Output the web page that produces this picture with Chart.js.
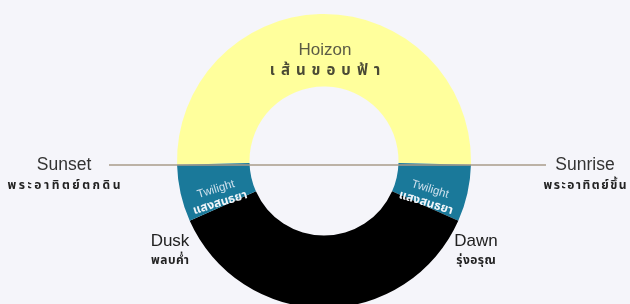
<!DOCTYPE html>
<html>
<head>
<meta charset="utf-8">
<script src="https://cdn.jsdelivr.net/npm/chart.js@4.4.0/dist/chart.umd.min.js"></script>
<style>
html,body{margin:0;padding:0;background:#f5f5fa;overflow:hidden;}
#wrap{position:absolute;left:0;top:0;width:630px;height:310px;}
</style>
</head>
<body>
<div id="wrap"><canvas id="c"></canvas></div>
<script>
// Data (degrees of the day circle)
const categories = ['Hoizon', 'Twilight (dawn)', 'Night', 'Twilight (dusk)'];
const values = [183, 22.5, 132, 22.5];
const colors = ['#ffff9c', '#1a799a', '#000000', '#1a799a'];

// Text labels
const horizonLabel = ['Hoizon', 'เส้นขอบฟ้า'];
const sunsetLabel = ['Sunset', 'พระอาทิตย์ตกดิน'];
const sunriseLabel = ['Sunrise', 'พระอาทิตย์ขึ้น'];
const duskLabel = ['Dusk', 'พลบค่ำ'];
const dawnLabel = ['Dawn', 'รุ่งอรุณ'];
const twilightLabel = ['Twilight', 'แสงสนธยา'];

const LATIN = '"Liberation Sans", Arial, sans-serif';
const THAI = '"Noto Sans Thai", "Noto Sans", Tahoma, sans-serif';

const labelPlugin = {
  id: 'labels',
  afterDatasetsDraw(chart) {
    const ctx = chart.ctx;
    const arc = chart.getDatasetMeta(0).data[0];
    const cx = arc.x, cy = arc.y, R = arc.outerRadius;
    const ly = cy + 4;
    ctx.save();
    // horizon line
    ctx.strokeStyle = '#a89b8a';
    ctx.lineWidth = 1.5;
    ctx.beginPath();
    ctx.moveTo(cx - R - 68, ly);
    ctx.lineTo(cx + R + 75, ly);
    ctx.stroke();

    ctx.textAlign = 'center';
    ctx.textBaseline = 'middle';
    function two(lbl, x, y, f1, f2, c1, c2, gap, sp) {
      ctx.letterSpacing = '0px';
      ctx.fillStyle = c1; ctx.font = f1; ctx.fillText(lbl[0], x, y);
      ctx.letterSpacing = sp + 'px';
      ctx.fillStyle = c2; ctx.font = f2; ctx.fillText(lbl[1], x + sp / 2, y + gap);
      ctx.letterSpacing = '0px';
    }
    two(horizonLabel, cx + 1, 50, '17px ' + LATIN, 'bold 15px ' + THAI, '#5b5b45', '#4a4a35', 22, 6);
    two(sunsetLabel, 64, ly, '17.5px ' + LATIN, 'bold 12px ' + THAI, '#333', '#222', 22, 2.5);
    two(sunriseLabel, 585, ly, '17.5px ' + LATIN, 'bold 12px ' + THAI, '#333', '#222', 22, 1.5);
    two(duskLabel, 170, cy + 80, '17px ' + LATIN, 'bold 12px ' + THAI, '#222', '#222', 21, 0.5);
    two(dawnLabel, 476, cy + 80, '17px ' + LATIN, 'bold 12px ' + THAI, '#222', '#222', 21, 0.5);

    // twilight labels on the blue segments
    function tw(x, y, ang) {
      ctx.save();
      ctx.translate(x, y);
      ctx.rotate(ang * Math.PI / 180);
      ctx.fillStyle = 'rgba(225,235,245,0.9)';
      ctx.font = '11.5px ' + LATIN;
      ctx.fillText(twilightLabel[0], 0, -7);
      ctx.fillStyle = '#f2f6fa';
      ctx.font = 'bold 12px ' + THAI;
      ctx.fillText(twilightLabel[1], 0, 8);
      ctx.restore();
    }
    tw(cx - 106, cy + 35, -17);
    tw(cx + 104, cy + 35, 17);
    ctx.restore();
  }
};

new Chart(document.getElementById('c'), {
  type: 'doughnut',
  data: {
    labels: categories,
    datasets: [{
      data: values,
      backgroundColor: colors,
      borderWidth: 0,
      hoverOffset: 0
    }]
  },
  options: {
    responsive: true,
    maintainAspectRatio: false,
    animation: false,
    rotation: -91.5,
    cutout: '50.7%',
    layout: { padding: { left: 18, right: 0, top: 14, bottom: 2 } },
    plugins: { legend: { display: false }, tooltip: { enabled: false } }
  },
  plugins: [labelPlugin]
});
</script>
</body>
</html>
